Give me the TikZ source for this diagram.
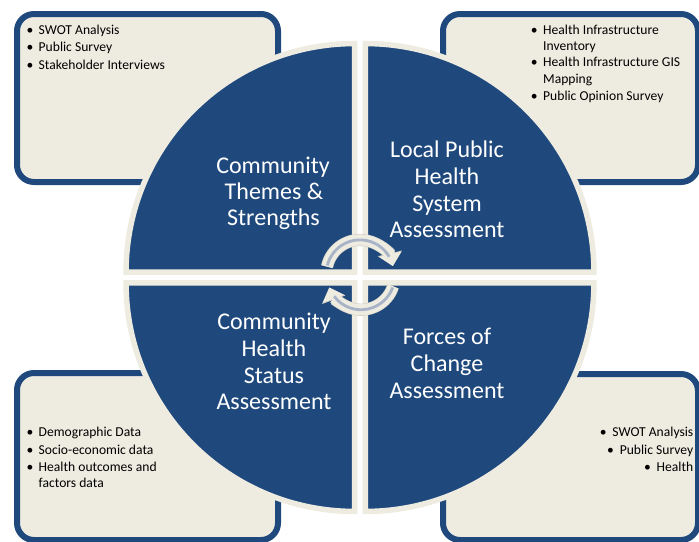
\documentclass[tikz,border=0pt]{standalone}
\usepackage{fontspec}
\setmainfont{Carlito}
\usetikzlibrary{arrows.meta}
\definecolor{dkblue}{HTML}{1F497D}
\definecolor{cream}{HTML}{EEECE1}
\definecolor{arcline}{HTML}{A9B3C8}
\definecolor{arcedge}{HTML}{D2CFC4}
\tikzset{
  infobox/.style={draw=dkblue, line width=6pt, fill=cream, rounded corners=17pt},
  sector/.style={fill=dkblue, draw=cream, line width=5.5pt},
  itemtxt/.style={font=\fontsize{13.6}{16}\selectfont, inner sep=0pt, anchor=base west, text=black},
  bul/.style={font=\fontsize{13.6}{16}\selectfont, inner sep=0pt, anchor=base, text=black},
  itemtxtr/.style={font=\fontsize{13.6}{16}\selectfont, inner sep=0pt, anchor=base east, text=black},
  qtxt/.style={font=\fontsize{24}{27}\selectfont, inner sep=0pt, anchor=base, text=white},
  cycedge/.style={draw=arcedge, line width=12.2pt},
  cycbody/.style={draw=cream, line width=11pt},
  cycline/.style={draw=arcline, line width=2.8pt},
}
\begin{document}
\begin{tikzpicture}[x=1pt,y=1pt]
\useasboundingbox (0,0) rectangle (699,-541);
\fill[white] (0,0) rectangle (699,-541);

% boxes
\draw[infobox] (17,-14) rectangle (278,-182);
\draw[infobox] (443,-14) rectangle (698,-182);
\draw[infobox] (17,-373) rectangle (278,-540);
\draw[infobox] (443,-374) rectangle (698,-540);

% box texts
\node[bul] (b1a) at (30,-34) {•};
\node[itemtxt] (t1a) at (38.5,-34) {SWOT Analysis};
\node[bul] (b1b) at (30,-51.7) {•};
\node[itemtxt] (t1b) at (38.5,-51.7) {Public Survey};
\node[bul] (b1c) at (30,-69.4) {•};
\node[itemtxt] (t1c) at (38.5,-69.4) {Stakeholder Interviews};

\node[bul] (b2a) at (534.3,-34) {•};
\node[itemtxt] (t2a) at (543,-34) {Health Infrastructure};
\node[itemtxt] (t2b) at (543,-50.3) {Inventory};
\node[bul] (b2c) at (534.3,-66.7) {•};
\node[itemtxt] (t2c) at (543,-66.7) {Health Infrastructure GIS};
\node[itemtxt] (t2d) at (543,-83) {Mapping};
\node[bul] (b2e) at (534.3,-100) {•};
\node[itemtxt] (t2e) at (543,-100) {Public Opinion Survey};

\node[bul] (b3a) at (30,-436) {•};
\node[itemtxt] (t3a) at (38.5,-436) {Demographic Data};
\node[bul] (b3b) at (30,-454) {•};
\node[itemtxt] (t3b) at (38.5,-454) {Socio-economic data};
\node[bul] (b3c) at (30,-471.7) {•};
\node[itemtxt] (t3c) at (38.5,-471.7) {Health outcomes and};
\node[itemtxt] (t3d) at (38.5,-487) {factors data};

\node[itemtxtr] (t4a) at (693.5,-436) {SWOT Analysis};
\node[bul] (b4a) at ([xshift=-9pt]t4a.base west) {•};
\node[itemtxtr] (t4b) at (693.5,-454) {Public Survey};
\node[bul] (b4b) at ([xshift=-9pt]t4b.base west) {•};
\node[itemtxtr] (t4c) at (693.5,-471.7) {Health};
\node[bul] (b4c) at ([xshift=-9pt]t4c.base west) {•};

% quadrants
\def\R{228.5}
\draw[sector] (354.55,-272.05) -- ++(180:\R) arc[start angle=180, end angle=90, radius=\R] -- cycle;
\draw[sector] (365.45,-272.05) -- ++(90:\R) arc[start angle=90, end angle=0, radius=\R] -- cycle;
\draw[sector] (365.45,-282.95) -- ++(0:\R) arc[start angle=0, end angle=-90, radius=\R] -- cycle;
\draw[sector] (354.55,-282.95) -- ++(270:\R) arc[start angle=270, end angle=180, radius=\R] -- cycle;

% quadrant texts
\node[qtxt] (q1a) at (273,-173.3) {Community};
\node[qtxt] (q1b) at (274,-199.8) {Themes \&};
\node[qtxt] (q1c) at (273.5,-225.6) {Strengths};

\node[qtxt] (q2a) at (447,-157.3) {Local Public};
\node[qtxt] (q2b) at (447,-184) {Health};
\node[qtxt] (q2c) at (447,-211) {System};
\node[qtxt] (q2d) at (447,-237.3) {Assessment};

\node[qtxt] (q3a) at (274,-329.3) {Community};
\node[qtxt] (q3b) at (274,-356) {Health};
\node[qtxt] (q3c) at (274,-383) {Status};
\node[qtxt] (q3d) at (274,-409.3) {Assessment};

\node[qtxt] (q4a) at (447,-344) {Forces of};
\node[qtxt] (q4b) at (447,-371) {Change};
\node[qtxt] (q4c) at (447,-398) {Assessment};

% cycle arrows
\def\r{33.7}
\coordinate (ca) at (360,-273.6);
\coordinate (cb) at (361,-276);
\draw[cycedge, -{Triangle[length=13pt,width=24pt]}] (ca) ++(168:\r) arc[start angle=168, end angle=13, radius=\r];
\draw[cycbody, -{Triangle[length=12pt,width=22pt]}] (ca) ++(168:\r) arc[start angle=168, end angle=13, radius=\r];
\draw[cycline] (ca) ++(166:\r) arc[start angle=166, end angle=30, radius=\r];

\draw[cycedge, -{Triangle[length=13pt,width=24pt]}] (cb) ++(-18:\r) arc[start angle=-18, end angle=-160, radius=\r];
\draw[cycbody, -{Triangle[length=12pt,width=22pt]}] (cb) ++(-18:\r) arc[start angle=-18, end angle=-160, radius=\r];
\draw[cycline] (cb) ++(-20:\r) arc[start angle=-20, end angle=-143, radius=\r];
\end{tikzpicture}
\end{document}
